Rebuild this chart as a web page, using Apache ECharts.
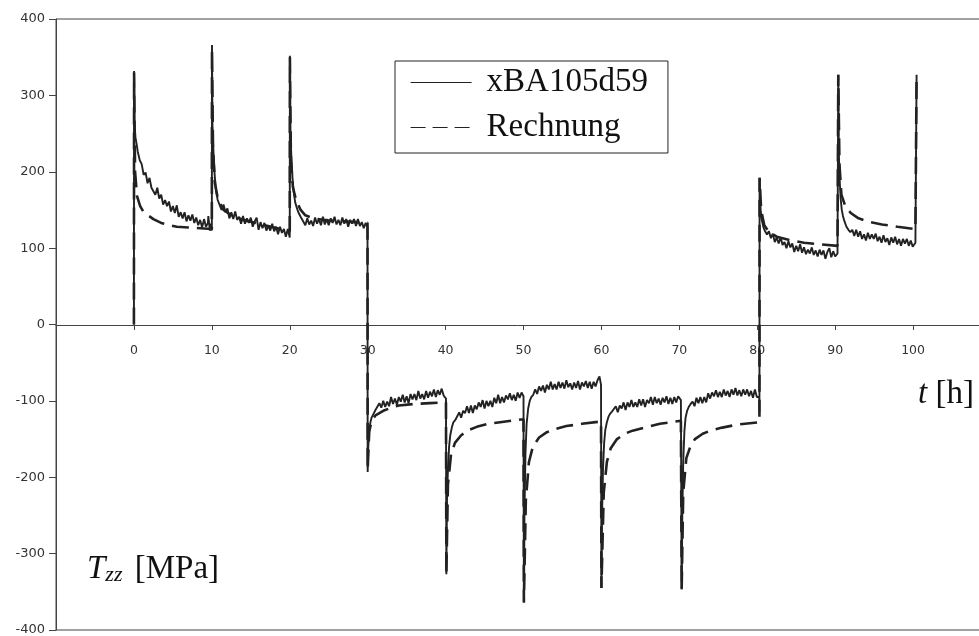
<!DOCTYPE html>
<html>
<head>
<meta charset="utf-8">
<script src="https://cdn.jsdelivr.net/npm/echarts@6/dist/echarts.min.js"></script>
<style>html,body{margin:0;padding:0;background:#fff;}#c{width:979px;height:636px;}</style>
</head>
<body>
<div id="c"></div>
<script>
// x ticks (t in h) and y ticks (Tzz in MPa)
const xTicks = [0,10,20,30,40,50,60,70,80,90,100];
const yTicks = [-400,-300,-200,-100,0,100,200,300,400];
const seriesNames = ['xBA105d59','Rechnung'];

// measured curve xBA105d59: [t, Tzz]
const measured = [
[0,0],[0.02,332],[0.08,262],[0.2,245],[0.35,236],[0.5,226],[0.75,215],[1.0,210],[1.25,196],[1.5,199],[1.75,185],[2.0,192],[2.25,179],[2.5,180],[2.75,170],[3.0,179],[3.25,165],[3.5,170],[3.75,157],[4.0,163],[4.25,155],[4.5,161],[4.75,148],[5.0,155],[5.25,146],[5.5,156],[5.75,141],[6.0,147],[6.25,139],[6.5,147],[6.75,135],[7.0,143],[7.25,136],[7.5,144],[7.75,133],[8.0,140],[8.25,130],[8.5,137],[8.75,127],[9.0,138],[9.25,128],[9.5,133],[9.55,142],[9.75,123],[9.9,132],[10.0,123],
[10.02,366],[10.08,260],[10.2,228],[10.35,198],[10.5,178],[10.75,163],[11.0,162],[11.25,150],[11.5,157],[11.75,147],[12.0,152],[12.25,139],[12.5,147],[12.75,138],[13.0,148],[13.25,137],[13.5,141],[13.75,132],[14.0,142],[14.25,132],[14.5,139],[14.75,133],[15.0,140],[15.25,128],[15.5,135],[15.75,140],[16.0,124],[16.25,134],[16.5,126],[16.75,133],[17.0,123],[17.25,129],[17.5,123],[17.75,132],[18.0,122],[18.25,128],[18.5,118],[18.75,128],[19.0,120],[19.25,125],[19.5,115],[19.75,125],[20.0,114],
[20.02,352],[20.08,255],[20.2,222],[20.35,192],[20.5,174],[20.7,160],[20.9,153],[21.1,147],[21.3,143],[21.5,139],[21.75,139],[22.0,130],[22.25,139],[22.5,131],[22.75,136],[23.0,129],[23.25,140],[23.5,132],[23.75,138],[24.0,130],[24.25,141],[24.5,131],[24.75,138],[25.0,130],[25.25,139],[25.5,133],[25.75,141],[26.0,131],[26.25,137],[26.5,130],[26.75,140],[27.0,132],[27.25,138],[27.5,128],[27.75,137],[28.0,132],[28.25,138],[28.5,129],[28.75,138],[29.0,129],[29.25,134],[29.5,126],[29.75,133],[29.98,128],
[30.0,-193],[30.08,-160],[30.2,-140],[30.35,-128],[30.5,-122],[30.75,-117],[31.0,-112],[31.25,-110],[31.5,-103],[31.75,-109],[32.0,-100],[32.25,-108],[32.5,-101],[32.75,-107],[33.0,-95],[33.25,-104],[33.5,-97],[33.75,-105],[34.0,-95],[34.25,-101],[34.5,-92],[34.75,-102],[35.0,-94],[35.25,-103],[35.5,-91],[35.75,-98],[36.0,-91],[36.25,-99],[36.5,-87],[36.75,-97],[37.0,-91],[37.25,-98],[37.5,-87],[37.75,-96],[38.0,-88],[38.25,-94],[38.5,-85],[38.75,-95],[39.0,-86],[39.25,-92],[39.5,-84],[39.75,-93],[40.05,-97],
[40.1,-327],[40.18,-230],[40.3,-190],[40.45,-160],[40.6,-145],[40.8,-135],[41.0,-128],[41.25,-125],[41.5,-124],[41.75,-115],[42.0,-122],[42.25,-113],[42.5,-116],[42.75,-107],[43.0,-116],[43.25,-106],[43.5,-116],[43.75,-106],[44.0,-111],[44.25,-102],[44.5,-108],[44.75,-99],[45.0,-110],[45.25,-100],[45.5,-107],[45.75,-100],[46.0,-108],[46.25,-96],[46.5,-103],[46.75,-92],[47.0,-103],[47.25,-95],[47.5,-102],[47.75,-93],[48.0,-98],[48.25,-90],[48.5,-99],[48.75,-92],[49.0,-100],[49.25,-89],[49.5,-96],[49.75,-89],[50.0,-94],
[50.05,-364],[50.12,-250],[50.25,-170],[50.4,-130],[50.6,-110],[50.8,-100],[51.0,-95],[51.25,-92],[51.5,-85],[51.75,-91],[52.0,-81],[52.25,-87],[52.5,-80],[52.75,-89],[53.0,-79],[53.25,-85],[53.5,-75],[53.75,-85],[54.0,-78],[54.25,-85],[54.5,-75],[54.75,-83],[55.0,-76],[55.25,-84],[55.5,-73],[55.75,-82],[56.0,-77],[56.25,-85],[56.5,-76],[56.75,-83],[57.0,-74],[57.25,-85],[57.5,-76],[57.75,-81],[58.0,-74],[58.25,-83],[58.5,-75],[58.75,-84],[59.0,-75],[59.25,-81],[59.5,-73],[59.75,-68],[59.95,-79],
[60.0,-345],[60.08,-250],[60.2,-190],[60.35,-155],[60.5,-138],[60.7,-128],[60.9,-121],[61.1,-117],[61.35,-114],[61.6,-115],[61.85,-107],[62.1,-115],[62.35,-106],[62.6,-110],[62.85,-102],[63.1,-112],[63.35,-102],[63.6,-108],[63.85,-99],[64.1,-108],[64.35,-102],[64.6,-108],[64.85,-98],[65.1,-106],[65.35,-98],[65.6,-108],[65.85,-99],[66.1,-103],[66.35,-95],[66.6,-105],[66.85,-95],[67.1,-103],[67.35,-97],[67.6,-105],[67.85,-96],[68.1,-102],[68.35,-94],[68.6,-104],[68.85,-96],[69.1,-104],[69.35,-95],[69.6,-102],[69.85,-94],[70.2,-99],
[70.3,-347],[70.38,-250],[70.5,-180],[70.65,-140],[70.8,-122],[71.0,-113],[71.2,-108],[71.45,-104],[71.7,-101],[71.95,-107],[72.2,-96],[72.45,-103],[72.7,-95],[72.95,-103],[73.2,-95],[73.45,-102],[73.7,-90],[73.95,-97],[74.2,-89],[74.45,-94],[74.7,-86],[74.95,-95],[75.2,-88],[75.45,-95],[75.7,-85],[75.95,-93],[76.2,-87],[76.45,-95],[76.7,-85],[76.95,-92],[77.2,-83],[77.45,-93],[77.7,-86],[77.95,-94],[78.2,-85],[78.45,-92],[78.7,-85],[78.95,-94],[79.2,-87],[79.45,-96],[79.7,-85],[79.95,-95],[80.25,-95],[80.28,-115],
[80.3,192],[80.36,165],[80.45,148],[80.6,136],[80.8,127],[81.0,122],[81.25,118],[81.5,122],[81.75,113],[82.0,119],[82.25,108],[82.5,114],[82.75,106],[83.0,114],[83.25,104],[83.5,108],[83.75,100],[84.0,109],[84.25,101],[84.5,106],[84.75,95],[85.0,103],[85.25,96],[85.5,105],[85.75,94],[86.0,101],[86.25,92],[86.5,98],[86.75,93],[87.0,101],[87.25,91],[87.5,97],[87.75,89],[88.0,98],[88.25,91],[88.5,97],[88.75,86],[89.0,95],[89.25,100],[89.5,88],[89.75,96],[90.0,89],[90.3,93],
[90.4,327],[90.46,230],[90.55,195],[90.7,165],[90.85,150],[91.0,142],[91.2,135],[91.45,128],[91.7,124],[91.95,121],[92.2,124],[92.45,116],[92.7,124],[92.95,115],[93.2,122],[93.45,112],[93.7,118],[93.95,110],[94.2,120],[94.45,112],[94.7,118],[94.95,112],[95.2,119],[95.45,109],[95.7,115],[95.95,107],[96.2,117],[96.45,108],[96.7,113],[96.95,104],[97.2,114],[97.45,107],[97.7,115],[97.95,105],[98.2,112],[98.45,103],[98.7,112],[98.95,106],[99.2,112],[99.45,103],[99.7,110],[99.95,102],[100.3,107],[100.45,327]
];

// computed curve Rechnung: [t, Tzz]
const computed = [
[0,0],[0.02,330],[0.15,200],[0.4,168],[0.8,155],[1.2,148],[1.8,143],[2.5,138],[3.5,133],[4.5,130],[5.5,128],[7,127],[8.5,126],[10,125],
[10.02,360],[10.15,230],[10.4,185],[10.8,163],[11.5,150],[12.5,143],[14,137],[16,132],[18,127],[20,122],
[20.02,350],[20.15,215],[20.4,180],[20.8,163],[21.4,150],[22,143],[23,139],[25,136],[27,135],[29.98,133],
[30.0,-190],[30.2,-140],[30.5,-127],[31,-119],[32,-113],[33,-109],[34,-106],[36,-104],[38,-103],[40.05,-102],
[40.1,-327],[40.3,-210],[40.7,-170],[41.2,-155],[42,-145],[43,-138],[44,-134],[45.5,-130],[47,-128],[50.0,-124],
[50.05,-364],[50.3,-230],[50.7,-180],[51.2,-160],[52,-148],[53,-141],[54,-137],[55.5,-133],[57.5,-130],[59.95,-127],
[60.0,-345],[60.3,-220],[60.7,-180],[61.2,-162],[62,-150],[63,-143],[64,-139],[65.5,-135],[67.5,-130],[70.2,-126],
[70.3,-347],[70.5,-220],[70.9,-175],[71.4,-160],[72,-150],[73,-143],[74,-139],[75.5,-135],[77.5,-131],[80.28,-128],
[80.3,192],[80.5,150],[80.9,130],[81.5,121],[82.5,115],[84,111],[86,107],[88,105],[90.3,103],
[90.4,327],[90.55,210],[90.8,170],[91.3,155],[92,146],[93,139],[94.5,134],[96,131],[98,128],[100.3,125],[100.45,327]
];

const chart = echarts.init(document.getElementById('c'), null, {renderer:'canvas'});
const serif = '"Liberation Serif", "DejaVu Serif", serif';
const sans = '"DejaVu Sans", "Liberation Sans", Arial, sans-serif';
chart.setOption({
  animation: false,
  backgroundColor: '#fff',
  grid: {left: 56, right: -12, top: 19, bottom: 6, show: true, borderColor: '#444', borderWidth: 1,
         containLabel: false, outerBoundsMode: 'none'},
  title: [
    {text: '{i|t} [h]', left: 918, top: 378, padding: 0,
     textStyle: {fontFamily: serif, fontSize: 33, fontWeight: 'normal', color: '#111',
       rich: {i: {fontFamily: serif, fontSize: 33, fontStyle: 'italic', color: '#111'}}}},
    {text: '{i|T}{s|zz} [MPa]', left: 87, top: 553, padding: 0,
     textStyle: {fontFamily: serif, fontSize: 33, fontWeight: 'normal', color: '#111',
       rich: {i: {fontFamily: serif, fontSize: 33, fontStyle: 'italic', color: '#111'},
              s: {fontFamily: serif, fontSize: 22, fontStyle: 'italic', color: '#111', verticalAlign: 'bottom', padding: [0, 4, 0, 0]}}}}
  ],
  legend: {
    orient: 'vertical', left: 395, top: 61, padding: [5, 20, 9, 15], itemGap: 12,
    itemWidth: 61, itemHeight: 20, borderColor: '#222', borderWidth: 1, selectedMode: false,
    itemStyle: {opacity: 0},
    textStyle: {fontFamily: serif, fontSize: 33, color: '#111', padding: [0, 0, 0, 10]},
    data: [
      {name: seriesNames[0], lineStyle: {width: 1.2, type: 'solid'}},
      {name: seriesNames[1], lineStyle: {width: 1.2, type: [15, 7]}}
    ]
  },
  xAxis: {
    type: 'value', min: -10, max: 110, interval: 10, position: 'top', offset: -306,
    axisLine: {show: true, onZero: false, lineStyle: {color: '#444', width: 1}},
    axisTick: {show: true, inside: true, length: 5, lineStyle: {color: '#444'}},
    axisLabel: {inside: true, margin: 19, fontFamily: sans, fontSize: 12.5, color: '#333',
      formatter: v => (xTicks.indexOf(v) >= 0 ? String(v) : '')},
    splitLine: {show: false}
  },
  yAxis: {
    type: 'value', min: -400, max: 400, interval: 100,
    axisLine: {show: true, onZero: false, lineStyle: {color: '#444', width: 1}},
    axisTick: {show: true, inside: false, length: 7, lineStyle: {color: '#444'}},
    axisLabel: {margin: 11, fontFamily: sans, fontSize: 13, color: '#333',
      formatter: v => (yTicks.indexOf(v) >= 0 ? String(v) : '')},
    splitLine: {show: false}
  },
  series: [
    {name: seriesNames[0], type: 'line', data: measured, symbol: 'none', showSymbol: false,
     lineStyle: {color: '#222', width: 1.9}, itemStyle: {color: '#222'}, z: 3},
    {name: seriesNames[1], type: 'line', data: computed, symbol: 'none', showSymbol: false, smooth: false,
     lineStyle: {color: '#222', width: 2.6, type: [17, 8]}, itemStyle: {color: '#222'}, z: 2}
  ]
});
</script>
</body>
</html>
